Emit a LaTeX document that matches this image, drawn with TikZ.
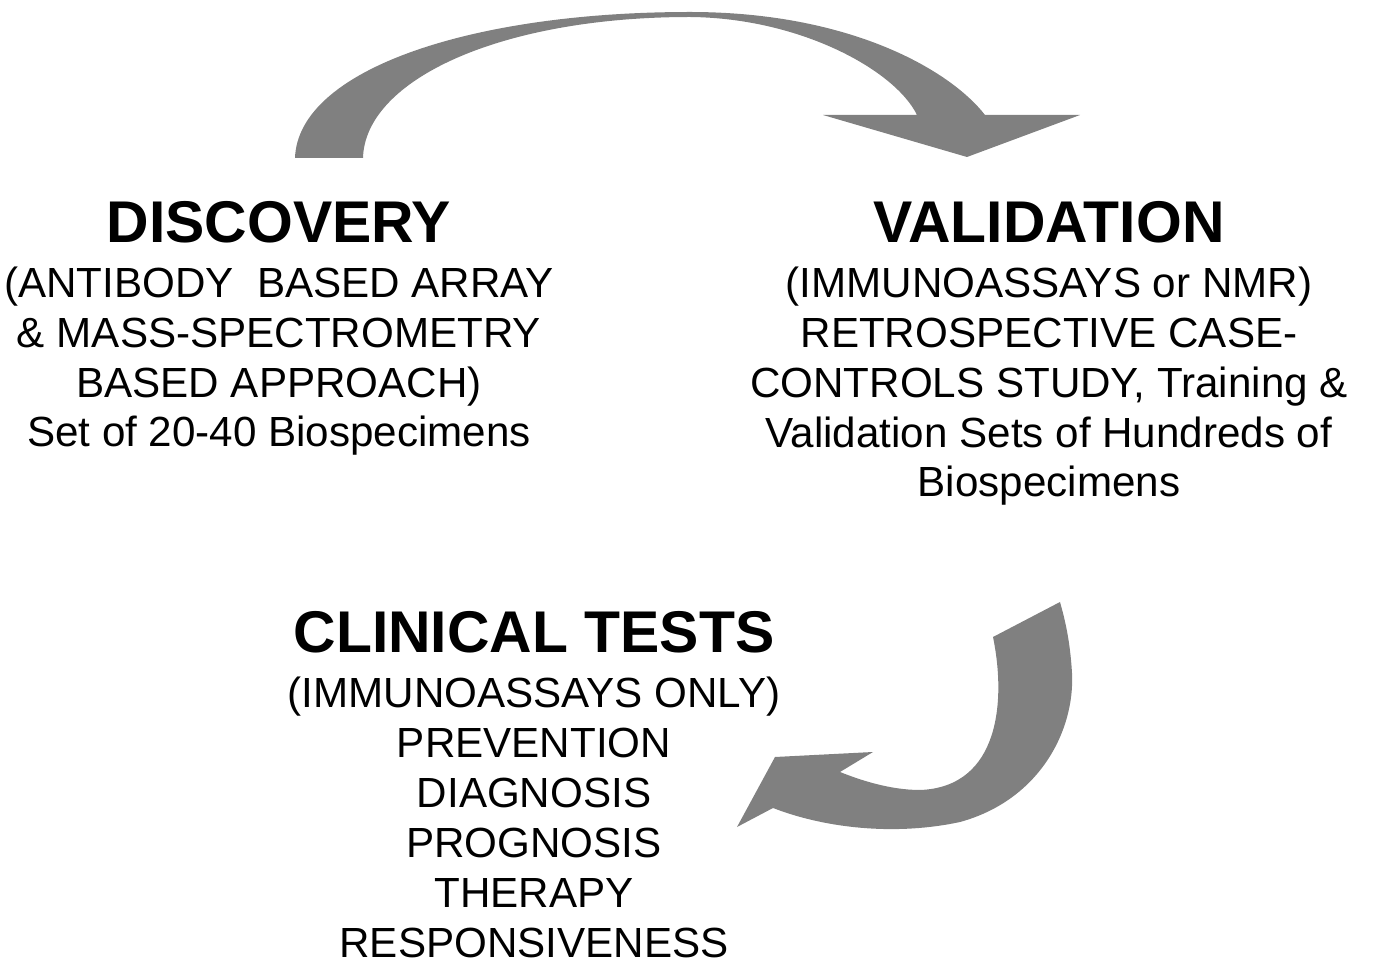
\documentclass[tikz,border=0pt]{standalone}
\usepackage{fontspec}
\setmainfont{Liberation Sans}

\definecolor{arrowgray}{RGB}{128,128,128}
\tikzset{
  stagetitle/.style={font=\bfseries\fontsize{33.5}{40}\selectfont, anchor=base, inner sep=0pt},
  stagetext/.style={font=\fontsize{24}{28.45}\selectfont, align=center, anchor=base, inner sep=0pt},
  bigarrow/.style={fill=arrowgray, draw=none}
}

\begin{document}
\begin{tikzpicture}[x=0.02cm, y=-0.02cm]
  \useasboundingbox (0,0) rectangle (1373,962);

  % the three stages (text nodes sit on the baseline of their last line)
  \node[stagetitle] (disc) at (279,243) {DISCOVERY};
  \node[stagetext] (disctext) at (279,447)
    {(ANTIBODY\ \ BASED ARRAY\\ \& MASS-SPECTROMETRY\\ BASED APPROACH)\\ Set of 20-40 Biospecimens};
  \node[stagetitle] (valid) at (1049,243) {VALIDATION};
  \node[stagetext] (validtext) at (1049,497)
    {(IMMUNOASSAYS or NMR)\\ RETROSPECTIVE CASE-\\ CONTROLS STUDY, Training \&\\ Validation Sets of Hundreds of\\ Biospecimens};
  \node[stagetitle] (clin) at (534,653) {CLINICAL TESTS};
  \node[stagetext] (clintext) at (534,957)
    {(IMMUNOASSAYS ONLY)\\ PREVENTION\\ DIAGNOSIS\\ PROGNOSIS\\ THERAPY\\ RESPONSIVENESS};

  % curved arrow over the top, discovery -> validation
  \fill[bigarrow] (295,158) .. controls (298,70) and (470,12) .. (690,12)
    .. controls (850,12) and (950,70) .. (985,115)
    -- (1080,115) -- (967,157) -- (823,115) -- (917,115)
    .. controls (895,70) and (800,18) .. (690,17)
    .. controls (500,17) and (365,80) .. (363,158) -- cycle;

  % curved arrow at the lower right, validation -> clinical tests
  \fill[bigarrow] (1060,602) -- (993,637)
    .. controls (1006,700) and (1000,787) .. (920,790)
    .. controls (890,790) and (860,780) .. (840,772)
    -- (873,752) -- (775,757) -- (737,827) -- (773,808)
    .. controls (830,830) and (900,835) .. (960,822)
    .. controls (1040,800) and (1075,730) .. (1072,673)
    .. controls (1070,640) and (1065,620) .. (1060,602) -- cycle;
\end{tikzpicture}
\end{document}
